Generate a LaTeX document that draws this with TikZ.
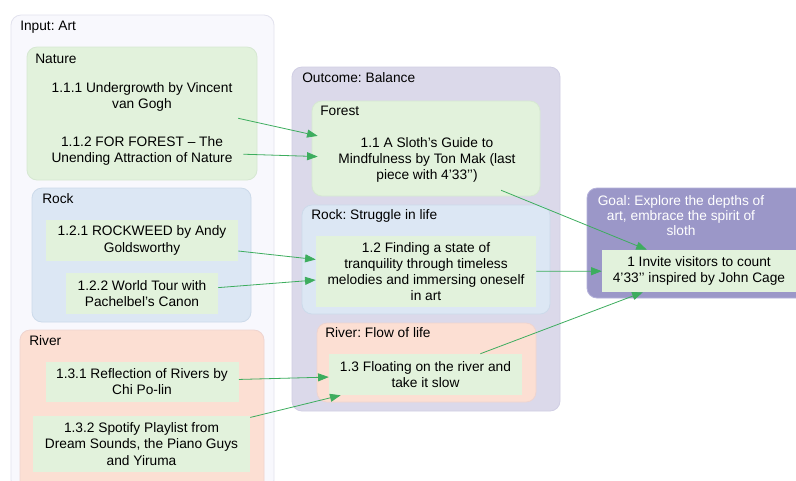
\documentclass[tikz,border=0pt]{standalone}
\usepackage{fontspec}
\setmainfont{Liberation Sans}
\frenchspacing
\usetikzlibrary{arrows.meta}
\definecolor{inputfill}{HTML}{F8F8FD}
\definecolor{inputline}{HTML}{E2E2EE}
\definecolor{greenfill}{HTML}{E2F2DC}
\definecolor{greenline}{HTML}{D6E8D2}
\definecolor{bluefill}{HTML}{DCE7F4}
\definecolor{blueline}{HTML}{CCDAEA}
\definecolor{redfill}{HTML}{FCDFD3}
\definecolor{redline}{HTML}{EED4D0}
\definecolor{outfill}{HTML}{DBD9EA}
\definecolor{outline}{HTML}{D0CEE4}
\definecolor{goalfill}{HTML}{9B97C8}
\definecolor{goalline}{HTML}{B4B1DA}
\definecolor{edgegreen}{HTML}{3DAD5E}
\tikzset{
  cluster/.style={rounded corners=7.5pt, line width=0.6pt},
  clabel/.style={anchor=base west, inner sep=0pt, font=\fontsize{10.3}{12}\selectfont},
  item/.style={inner sep=0pt, align=center, font=\fontsize{10.3}{12.1}\selectfont},
  itembox/.style={item, fill=greenfill},
  conn/.style={draw=edgegreen, line width=0.6pt, -{Triangle[length=8pt,width=6pt]}}
}
\begin{document}
\begin{tikzpicture}[x=0.75pt, y=-0.75pt]
\useasboundingbox (0,0) rectangle (796,480);
\clip (0,0) rectangle (796,480);
\fill[white] (0,0) rectangle (796,480);
% clusters
\draw[cluster, fill=inputfill, draw=inputline] (11,15) rectangle (274,490);
\draw[cluster, fill=greenfill, draw=greenline] (27,47) rectangle (257,180);
\draw[cluster, fill=bluefill, draw=blueline] (32,188) rectangle (251,322);
\draw[cluster, fill=redfill, draw=redline] (20,330) rectangle (264,492);
\draw[cluster, fill=outfill, draw=outline] (292,67) rectangle (560,411);
\draw[cluster, fill=greenfill, draw=greenline] (312,101) rectangle (540,196);
\draw[cluster, fill=bluefill, draw=blueline] (302,205) rectangle (550,314);
\draw[cluster, fill=redfill, draw=redline] (317,323) rectangle (536,402);
\draw[cluster, fill=goalfill, draw=goalline] (587,188) rectangle (810,298);
% cluster labels
\node[clabel] (lin) at (20,30) {Input: Art};
\node[clabel] (lnat) at (35,63) {Nature};
\node[clabel] (lrock) at (42,203) {Rock};
\node[clabel] (lriv) at (29,345) {River};
\node[clabel] (lout) at (302,82) {Outcome: Balance};
\node[clabel] (lfor) at (320,115) {Forest};
\node[clabel] (lrs) at (311,219) {Rock: Struggle in life};
\node[clabel] (lrf) at (325,337) {River: Flow of life};
\node[item, text=white, font=\fontsize{10.3}{11.3}\selectfont] (lgoal) at (681,215.5) {Goal: Explore the depths of\\art, embrace the spirit of\\sloth};
% nodes
\node[item, minimum width=192*0.75pt, minimum height=44*0.75pt] (n111) at (142,97) {1.1.1 Undergrowth by Vincent\\van Gogh};
\node[item, minimum width=202*0.75pt, minimum height=44*0.75pt] (n112) at (142,151) {1.1.2 FOR FOREST -- The\\Unending Attraction of Nature};
\node[itembox, minimum width=192*0.75pt, minimum height=41*0.75pt] (n121) at (142,240.5) {1.2.1 ROCKWEED by Andy\\Goldsworthy};
\node[itembox, minimum width=152*0.75pt, minimum height=41*0.75pt] (n122) at (142,293.5) {1.2.2 World Tour with\\Pachelbel's Canon};
\node[itembox, minimum width=193*0.75pt, minimum height=40*0.75pt] (n131) at (142,382) {1.3.1 Reflection of Rivers by\\Chi Po-lin};
\node[itembox, minimum width=217*0.75pt, minimum height=56*0.75pt] (n132) at (141.5,444) {1.3.2 Spotify Playlist from\\Dream Sounds, the Piano Guys\\and Yiruma};
\node[item, minimum width=218*0.75pt, minimum height=60*0.75pt] (n11) at (427,160) {1.1 A Sloth's Guide to\\Mindfulness by Ton Mak (last\\piece with 4’33’’)};
\node[itembox, minimum width=220*0.75pt, minimum height=71*0.75pt] (n12) at (426,271.5) {1.2 Finding a state of\\tranquility through timeless\\melodies and immersing oneself\\in art};
\node[itembox, minimum width=193*0.75pt, minimum height=41*0.75pt] (n13) at (425.5,374.5) {1.3 Floating on the river and\\take it slow};
\node[itembox, minimum width=194*0.75pt, minimum height=42*0.75pt] (n1) at (699,271) {1 Invite visitors to count\\4’33’’ inspired by John Cage};
% connectors
\draw[conn] (n111) -- (n11);
\draw[conn] (n112) -- (n11);
\draw[conn] (n121) -- (n12);
\draw[conn] (n122) -- (n12);
\draw[conn] (n131) -- (n13);
\draw[conn] (n132) -- (n13);
\draw[conn] (n11) -- (n1);
\draw[conn] (n12) -- (n1);
\draw[conn] (n13) -- (n1);
\end{tikzpicture}
\end{document}
